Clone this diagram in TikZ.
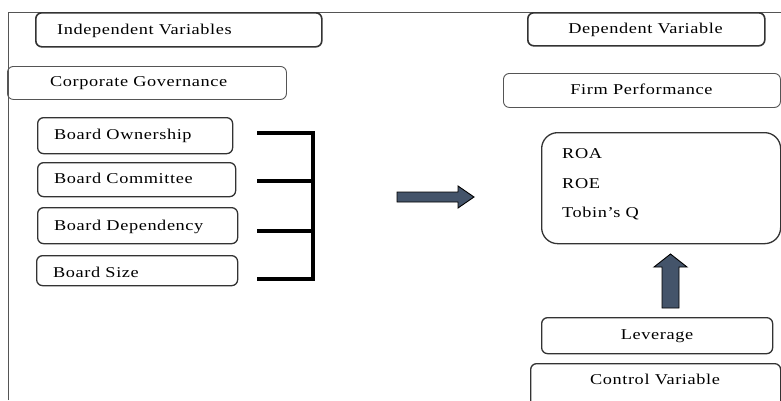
\documentclass[tikz,border=0pt]{standalone}
\usepackage{fontspec}
\setmainfont{Liberation Serif}[FakeStretch=1.22, LetterSpace=4]
\definecolor{boxc}{HTML}{333333}
\definecolor{framec}{HTML}{555555}
\definecolor{arrowfill}{HTML}{44546A}
\begin{document}
\begin{tikzpicture}[x=1pt,y=-1pt,
  box/.style={draw=boxc, line width=1.3pt, rounded corners=6pt, inner sep=0pt, anchor=north west},
  thinbox/.style={box, draw=framec, line width=0.9pt},
  txt/.style={font=\fontsize{15}{18}\selectfont, inner sep=0pt, text=black},
  brk/.style={line width=3.6pt, line join=miter, black},
  blockarrow/.style={fill=arrowfill, draw=black, line width=0.9pt, line join=miter}]
\clip (0,0) rectangle (781,400);
\fill[white] (0,0) rectangle (781,400);
% frame
\draw[framec, line width=1pt] (8,400) -- (8,12) -- (781,12);
% boxes
\node[box, line width=1.6pt, minimum width=286pt, minimum height=34pt] (indep) at (35,12) {};
\node[txt, anchor=base west] (indeptxt) at (57,34) {Independent Variables};
\node[thinbox, minimum width=279pt, minimum height=33pt] (corp) at (7,66) {};
\node[txt, anchor=base west] (corptxt) at (50,86) {Corporate Governance};
\node[box, line width=1.6pt, minimum width=237pt, minimum height=33pt] (dep) at (527,12) {};
\node[txt, anchor=base] (deptxt) at (645.5,33) {Dependent Variable};
\node[thinbox, minimum width=277pt, minimum height=34pt] (firm) at (503,73) {};
\node[txt, anchor=base] (firmtxt) at (641.5,94) {Firm Performance};
\node[box, minimum width=195pt, minimum height=36pt] (own) at (37,117) {};
\node[txt, anchor=base west] (owntxt) at (54,139) {Board Ownership};
\node[box, minimum width=198pt, minimum height=34pt] (comm) at (37,162) {};
\node[txt, anchor=base west] (commtxt) at (54,183) {Board Committee};
\node[box, minimum width=200pt, minimum height=36pt] (depy) at (37,207) {};
\node[txt, anchor=base west] (depytxt) at (54,230) {Board Dependency};
\node[box, minimum width=201pt, minimum height=30pt] (size) at (36,255) {};
\node[txt, anchor=base west] (sizetxt) at (53,277) {Board Size};
\node[box, rounded corners=16pt, minimum width=239pt, minimum height=111pt] (roa) at (541,132) {};
\node[txt, anchor=base west] (roatxt) at (562,158) {ROA};
\node[txt, anchor=base west] (roetxt) at (562,188) {ROE};
\node[txt, anchor=base west] (tobintxt) at (562,217) {Tobin’s Q};
\node[box, minimum width=231pt, minimum height=36pt] (lev) at (541,317) {};
\node[txt, anchor=base] (levtxt) at (657,339) {Leverage};
\node[box, minimum width=250pt, minimum height=60pt] (ctrl) at (530,363) {};
\node[txt, anchor=base] (ctrltxt) at (655,384) {Control Variable};
% bracket
\coordinate (b1) at (257,133);
\coordinate (b2) at (257,181);
\coordinate (b3) at (257,231);
\coordinate (b4) at (257,279);
\coordinate (bx1) at (313,133);
\coordinate (bx4) at (313,279);
\draw[brk] (b1) -- (bx1) -- (bx4) -- (b4);
\draw[brk] (b2) -- (313,181);
\draw[brk] (b3) -- (313,231);
% block arrows
\draw[blockarrow] (397,192) -- (458,192) -- (458,186) -- (474,197) -- (458,208) -- (458,202) -- (397,202) -- cycle;
\draw[blockarrow] (662,308) -- (662,267) -- (654,267) -- (670.5,254) -- (687,267) -- (679,267) -- (679,308) -- cycle;
\end{tikzpicture}
\end{document}
